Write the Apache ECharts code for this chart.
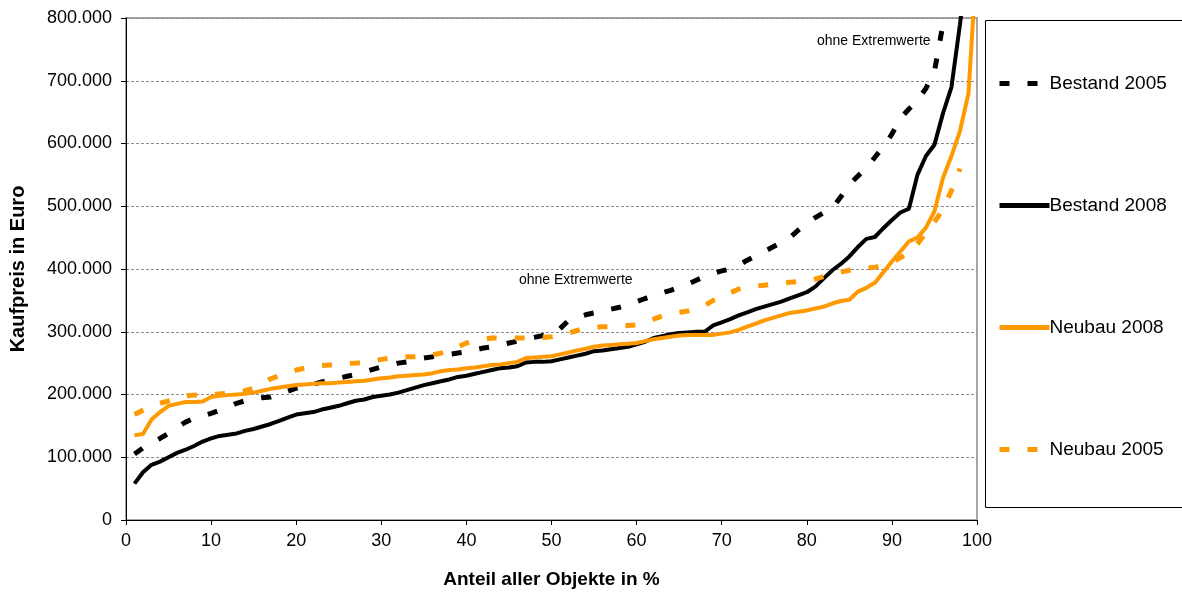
<!DOCTYPE html>
<html>
<head>
<meta charset="utf-8">
<script src="https://cdn.jsdelivr.net/npm/echarts@6/dist/echarts.min.js"></script>
<style>
  html, body { margin: 0; padding: 0; background: #fff; }
  #chart { width: 1182px; height: 595px; }
</style>
</head>
<body>
<div id="chart"></div>
<script>
// Anteil aller Objekte in % (x positions of the points)
const shares = [
  1, 2, 3, 4, 5, 6, 7, 8, 9, 10, 11, 12, 13, 14, 15, 16, 17, 18, 19, 20,
  21, 22, 23, 24, 25, 26, 27, 28, 29, 30, 31, 32, 33, 34, 35, 36, 37, 38, 39, 40,
  41, 42, 43, 44, 45, 46, 47, 48, 49, 50, 51, 52, 53, 54, 55, 56, 57, 58, 59, 60,
  61, 62, 63, 64, 65, 66, 67, 68, 69, 70, 71, 72, 73, 74, 75, 76, 77, 78, 79, 80,
  81, 82, 83, 84, 85, 86, 87, 88, 89, 90, 91, 92, 93, 94, 95, 96, 97, 98, 99, 100,
];

// Kaufpreis in Tausend Euro (null = kein Wert, ohne Extremwerte)
const bestand2005 = [
  105, 115, 123, 130, 138, 148, 156, 162, 166, 170, 175, 180, 186, 190, 193, 195, 196, 200, 205, 210,
  213, 216, 220, 223, 226, 229, 232, 236, 240, 244, 247, 250, 252, 255, 258, 260, 262, 264, 266, 268,
  271, 274, 276, 279, 282, 285, 288, 291, 294, 296, 305, 318, 323, 327, 330, 333, 336, 339, 343, 348,
  353, 357, 362, 366, 371, 376, 382, 388, 393, 397, 400, 406, 414, 421, 428, 435, 442, 450, 462, 473,
  482, 490, 497, 515, 535, 548, 561, 578, 595, 615, 640, 655, 668, 688, 715, 790, 850, 950, 1000, 1100,
];
const bestand2008 = [
  58, 76, 88, 93, 100, 107, 112, 118, 125, 130, 134, 136, 138, 142, 145, 149, 153, 158, 163, 168,
  170, 172, 176, 179, 182, 186, 190, 192, 196, 198, 200, 203, 207, 211, 215, 218, 221, 224, 228, 230,
  233, 236, 239, 242, 243, 245, 251, 252, 252, 253, 256, 259, 262, 265, 269, 270, 272, 274, 276, 280,
  284, 290, 293, 296, 298, 299, 300, 300, 310, 315, 320, 326, 331, 336, 340, 344, 348, 353, 358, 363,
  372, 385, 398, 408, 420, 435, 448, 451, 465, 478, 490, 496, 550, 580, 598, 648, 690, 790, 900, 1000,
];
const neubau2008 = [
  135, 137, 160, 172, 182, 185, 188, 188, 189, 196, 198, 199, 200, 201, 203, 206, 209, 211, 213, 215,
  216, 217, 218, 218, 219, 220, 221, 222, 224, 226, 227, 229, 230, 231, 232, 234, 237, 239, 240, 242,
  243, 245, 247, 248, 250, 252, 258, 259, 260, 261, 264, 267, 270, 273, 276, 278, 279, 280, 281, 282,
  285, 288, 290, 292, 294, 295, 295, 295, 295, 297, 299, 303, 308, 313, 318, 322, 326, 330, 332, 334,
  337, 340, 345, 349, 351, 364, 370, 378, 395, 412, 428, 444, 450, 466, 492, 545, 580, 620, 680, 900,
];
const neubau2005 = [
  168, 175, 180, 186, 190, 195, 198, 199, 200, 200, 201, 202, 204, 206, 210, 218, 225, 230, 235, 239,
  242, 244, 246, 247, 248, 249, 250, 251, 253, 256, 258, 259, 260, 260, 261, 263, 266, 270, 276, 282,
  285, 288, 290, 290, 290, 290, 290, 291, 291, 292, 294, 298, 302, 306, 307, 308, 308, 309, 310, 311,
  315, 320, 325, 328, 331, 333, 336, 342, 350, 355, 362, 368, 371, 373, 374, 376, 377, 379, 380, 381,
  384, 388, 392, 395, 398, 400, 401, 403, 406, 410, 418, 425, 440, 458, 475, 495, 525, 560, null, null,
];

const COLORS = {
  black:  '#000000',
  orange: '#FF9900',
  grid:   '#8c8c8c',
  frame:  '#a6a6a6',
  text:   '#000000',
};
const FONT = 'Arial, "Liberation Sans", sans-serif';

function pairs(values) {
  return shares.map((s, i) => [s, values[i]]);
}

function lineSeries(name, values, color, dashed) {
  return {
    name,
    type: 'line',
    data: pairs(values),
    symbol: 'none',
    smooth: false,
    clip: true,
    lineStyle: {
      color,
      width: dashed ? 5 : 4,
      type: dashed ? [10, 18] : 'solid',
      cap: 'butt',
    },
    itemStyle: { color },
  };
}

const chart = echarts.init(document.getElementById('chart'), null, { renderer: 'canvas' });

chart.setOption({
  backgroundColor: '#ffffff',
  animation: false,
  textStyle: { fontFamily: FONT },
  grid: {
    left: 126, right: 205, top: 18, bottom: 75,
    show: true,
    borderColor: COLORS.frame,
    borderWidth: 2,
  },
  xAxis: {
    type: 'value',
    min: 0,
    max: 100,
    interval: 10,
    name: 'Anteil aller Objekte in %',
    nameLocation: 'middle',
    nameGap: 50,
    nameTextStyle: { fontFamily: FONT, fontSize: 19, fontWeight: 'bold', color: COLORS.text },
    axisLine: { lineStyle: { color: COLORS.black, width: 1 } },
    axisTick: { show: true, length: 5, inside: false, lineStyle: { color: COLORS.black } },
    axisLabel: { color: COLORS.text, fontSize: 18, margin: 12, fontFamily: FONT },
    splitLine: { show: false },
  },
  yAxis: {
    type: 'value',
    min: 0,
    max: 800,
    interval: 100,
    name: 'Kaufpreis in Euro',
    nameLocation: 'middle',
    nameRotate: 90,
    nameGap: 98,
    nameTextStyle: { fontFamily: FONT, fontSize: 20, fontWeight: 'bold', color: COLORS.text },
    axisLine: { show: true, lineStyle: { color: COLORS.black, width: 1 } },
    axisTick: { show: true, length: 5, inside: false, lineStyle: { color: COLORS.black } },
    axisLabel: {
      color: COLORS.text,
      fontSize: 18,
      margin: 14,
      fontFamily: FONT,
      formatter: (v) => (v === 0 ? '0' : v + '.000'),
    },
    splitLine: { show: true, lineStyle: { color: COLORS.grid, width: 1, type: [3, 2] } },
  },
  legend: {
    orient: 'vertical',
    left: 992,
    top: 69,
    itemWidth: 50,
    itemHeight: 20,
    itemGap: 103,
    itemStyle: { opacity: 0, borderWidth: 0 },
    lineStyle: { width: 5 },
    textStyle: { fontFamily: FONT, fontSize: 19, color: COLORS.text, padding: [0, 0, 0, -5] },
    data: ['Bestand 2005', 'Bestand 2008', 'Neubau 2008', 'Neubau 2005'],
  },
  graphic: [
    {
      type: 'rect',
      shape: { x: 985.5, y: 20.5, width: 210, height: 487 },
      style: { fill: 'none', stroke: '#000', lineWidth: 1 },
      silent: true,
    },
    {
      type: 'text',
      left: 519,
      top: 273,
      style: { text: 'ohne Extremwerte', font: '14px ' + FONT, fill: '#000' },
    },
    {
      type: 'text',
      left: 817,
      top: 34,
      style: { text: 'ohne Extremwerte', font: '14px ' + FONT, fill: '#000' },
    },
  ],
  series: [
    lineSeries('Bestand 2005', bestand2005, COLORS.black, true),
    lineSeries('Bestand 2008', bestand2008, COLORS.black, false),
    lineSeries('Neubau 2008', neubau2008, COLORS.orange, false),
    lineSeries('Neubau 2005', neubau2005, COLORS.orange, true),
  ],
});
</script>
</body>
</html>
